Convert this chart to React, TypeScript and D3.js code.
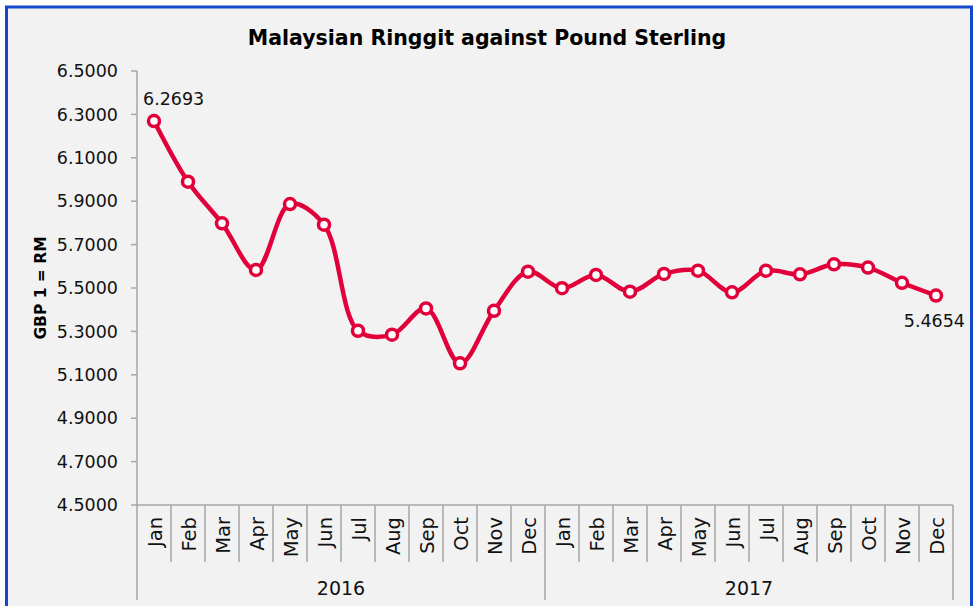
import React from 'react';
import * as d3 from 'd3';

const months = ['Jan','Feb','Mar','Apr','May','Jun','Jul','Aug','Sep','Oct','Nov','Dec'];
const years = ['2016', '2017'];
const rates2016 = [6.2693, 5.990, 5.798, 5.583, 5.887, 5.792, 5.303, 5.285, 5.406, 5.153, 5.395, 5.575];
const rates2017 = [5.499, 5.560, 5.483, 5.565, 5.580, 5.480, 5.580, 5.563, 5.609, 5.594, 5.524, 5.4654];
const yTicks = [4.5, 4.7, 4.9, 5.1, 5.3, 5.5, 5.7, 5.9, 6.1, 6.3, 6.5];
const title = 'Malaysian Ringgit against Pound Sterling';
const yTitle = 'GBP 1 = RM';

const W = 978, H = 606;
const FONT = '"DejaVu Sans", sans-serif';
const RED = '#e2003b';
const AXIS = '#a6a6a6';

export default function App() {
  const data = [
    ...rates2016.map((v, i) => ({ key: `2016-${i}`, month: months[i], year: years[0], v })),
    ...rates2017.map((v, i) => ({ key: `2017-${i}`, month: months[i], year: years[1], v })),
  ];
  const x = d3.scaleBand<string>().domain(data.map(d => d.key)).range([137, 953]).padding(0);
  const y = d3.scaleLinear().domain([4.5, 6.5]).range([505, 71]);
  const cx = (k: string) => (x(k) as number) + x.bandwidth() / 2;
  const line = d3.line<typeof data[0]>().x(d => cx(d.key)).y(d => y(d.v)).curve(d3.curveCatmullRom.alpha(0.5));
  const first = data[0];
  const last = data[data.length - 1];
  const x0 = x.range()[0], x1 = x.range()[1];
  const y0 = y.range()[0];

  return (
    <svg width={W} height={H} style={{ position: 'absolute', left: 0, top: 0, background: '#fff' }}>
      <rect x={6.5} y={7} width={965} height={620} fill="#f2f2f2" stroke="#1448cc" strokeWidth={3} />
      <text x={487} y={45} textAnchor="middle" fontFamily={FONT} fontWeight="bold" fontSize={20.5} fill="#000">{title}</text>
      <text transform={`translate(46,288) rotate(-90)`} textAnchor="middle" fontFamily={FONT} fontWeight="bold" fontSize={15.5} fill="#000">{yTitle}</text>
      {/* y axis */}
      <line x1={x0} x2={x0} y1={y.range()[1]} y2={600} stroke={AXIS} strokeWidth={1.5} />
      {yTicks.map(t => (
        <g key={t}>
          <line x1={x0 - 6} x2={x0} y1={y(t)} y2={y(t)} stroke={AXIS} strokeWidth={1.5} />
          <text x={118} y={y(t)} dy="0.35em" textAnchor="end" fontFamily={FONT} fontSize={17.5} fill="#111">{t.toFixed(4)}</text>
        </g>
      ))}
      {/* x axis */}
      <line x1={x0} x2={x1} y1={y0} y2={y0} stroke={AXIS} strokeWidth={1.5} />
      {data.map((d, i) => {
        const bx = (x(d.key) as number) + x.bandwidth();
        const isYearEnd = i === 11 || i === data.length - 1;
        return (
          <g key={d.key}>
            <line x1={bx} x2={bx} y1={y0} y2={isYearEnd ? 600 : 562} stroke={AXIS} strokeWidth={1.5} />
            <text transform={`translate(${cx(d.key) + 7.5},517) rotate(-90)`} textAnchor="end" fontFamily={FONT} fontSize={19.5} fill="#111">{d.month}</text>
          </g>
        );
      })}
      {years.map((yr) => {
        const a = x(`${yr}-0`) as number;
        const b = (x(`${yr}-11`) as number) + x.bandwidth();
        return <text key={yr} x={(a + b) / 2} y={595} textAnchor="middle" fontFamily={FONT} fontSize={19} fill="#111">{yr}</text>;
      })}
      {/* series */}
      <path d={line(data) as string} fill="none" stroke={RED} strokeWidth={4.5} strokeLinejoin="round" />
      {data.map(d => (
        <circle key={d.key} cx={cx(d.key)} cy={y(d.v)} r={5.5} fill="#fff" stroke={RED} strokeWidth={3.5} />
      ))}
      <text x={cx(first.key) - 11} y={y(first.v) - 16} fontFamily={FONT} fontSize={17.5} fill="#111">{first.v.toFixed(4)}</text>
      <text x={cx(last.key) + 29} y={y(last.v) + 31} textAnchor="end" fontFamily={FONT} fontSize={17.5} fill="#111">{last.v.toFixed(4)}</text>
    </svg>
  );
}
